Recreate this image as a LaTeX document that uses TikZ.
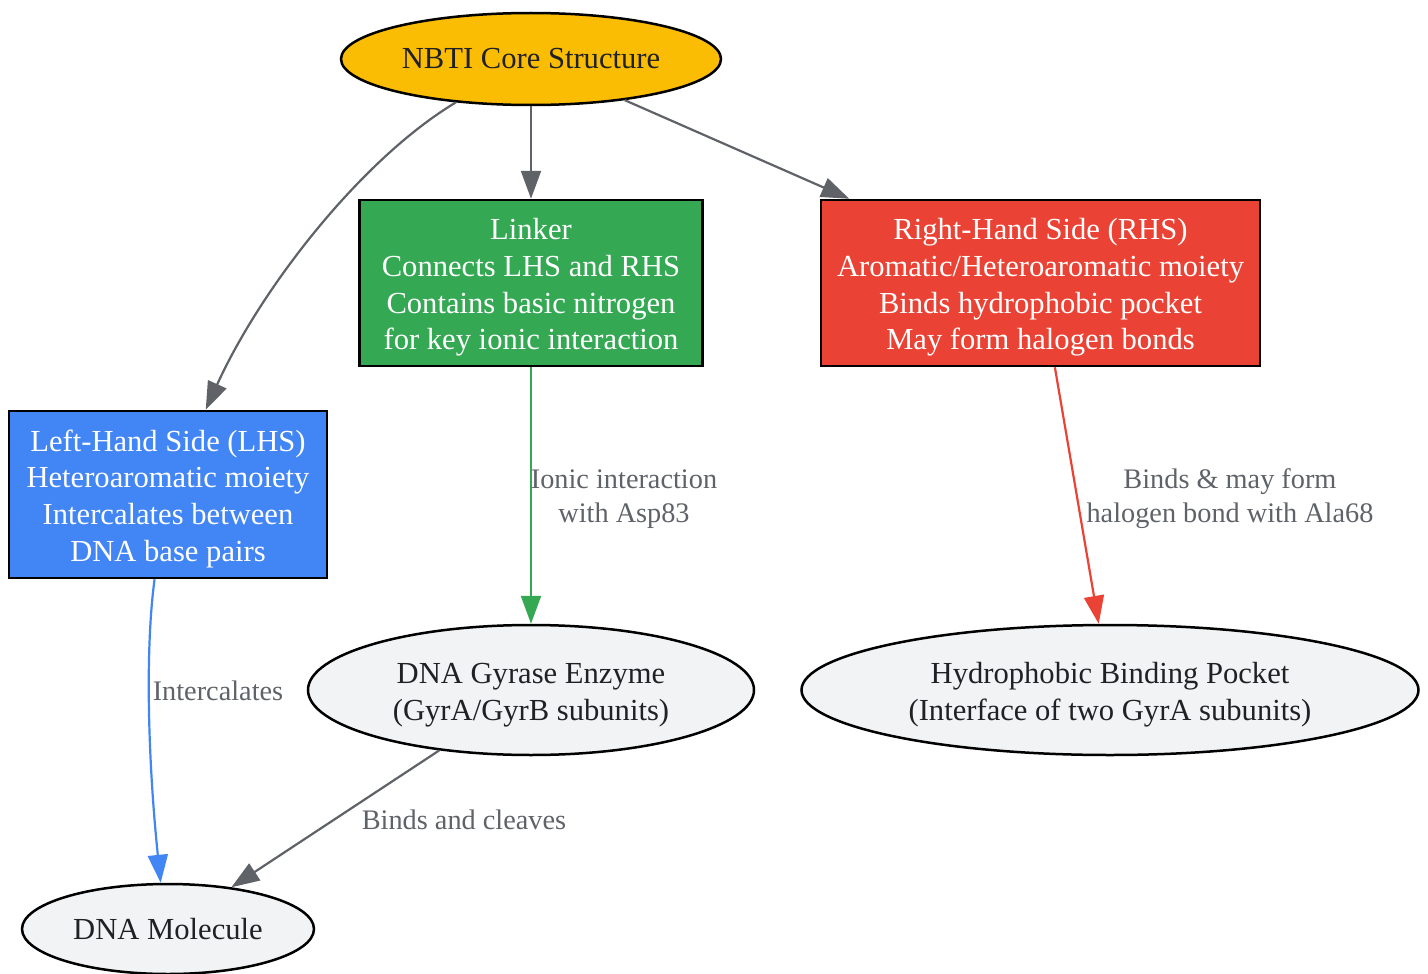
\documentclass[tikz,border=0pt]{standalone}
\usepackage{fontspec}
\setmainfont{Liberation Serif}
\usetikzlibrary{shapes.geometric,arrows.meta,calc}
\definecolor{edgegray}{HTML}{5F6368}
\definecolor{txtdark}{HTML}{202124}
\definecolor{gyellow}{HTML}{FBBC04}
\definecolor{ggreen}{HTML}{34A853}
\definecolor{gred}{HTML}{EA4335}
\definecolor{gblue}{HTML}{4285F4}
\definecolor{glight}{HTML}{F1F3F4}
\newcommand{\toplift}{\rule{0pt}{30pt}}
\newcommand{\lbllift}{\rule{0pt}{26pt}}
\tikzset{
  nodefont/.style={font=\fontsize{30.6}{36.8}\selectfont},
  lblfont/.style={font=\fontsize{28.3}{34}\selectfont, text=edgegray, align=center, inner sep=0pt},
  boxnode/.style={rectangle, draw=black, line width=2.5pt, nodefont, text=white, align=center, inner sep=0pt},
  ellnode/.style={ellipse, draw=black, line width=2.5pt, nodefont, text=txtdark, align=center, inner sep=0pt},
  conn/.style={line width=2.2pt, -{Triangle[length=28pt,width=20pt]}},
}
\begin{document}
\begin{tikzpicture}[x=1pt,y=-1pt]
\useasboundingbox (0,0) rectangle (1428,974);
\fill[white] (0,0) rectangle (1428,974);

\node[ellnode, fill=gyellow, minimum width=380pt, minimum height=92pt] (nbti) at (531,59) {NBTI Core Structure};
\node[boxnode, fill=ggreen, minimum width=343pt, minimum height=166pt] (linker) at (531,283)
  {\toplift Linker\\Connects LHS and RHS\\Contains basic nitrogen\\for key ionic interaction};
\node[boxnode, fill=gred, minimum width=439pt, minimum height=166pt] (rhs) at (1040.5,283)
  {\toplift Right-Hand Side (RHS)\\Aromatic/Heteroaromatic moiety\\Binds hydrophobic pocket\\May form halogen bonds};
\node[boxnode, fill=gblue, minimum width=318pt, minimum height=167pt] (lhs) at (168,494.5)
  {\toplift Left-Hand Side (LHS)\\Heteroaromatic moiety\\Intercalates between\\DNA base pairs};
\node[ellnode, fill=glight, minimum width=446pt, minimum height=130pt] (gyrase) at (531,690)
  {\toplift DNA Gyrase Enzyme\\(GyrA/GyrB subunits)};
\node[ellnode, fill=glight, minimum width=617pt, minimum height=130pt] (pocket) at (1110,690)
  {\toplift Hydrophobic Binding Pocket\\(Interface of two GyrA subunits)};
\node[ellnode, fill=glight, minimum width=292pt, minimum height=90pt] (dna) at (168,929)
  {DNA Molecule};

% edges
\draw[conn, draw=edgegray] (nbti.210) .. controls (360,160) and (260,290) .. (lhs.66);
\draw[conn, draw=edgegray] (nbti) -- (linker);
\draw[conn, draw=edgegray] (nbti) -- (rhs);
\draw[conn, draw=ggreen] (linker) -- (gyrase);
\draw[conn, draw=gred] (rhs) -- (pocket);
\draw[conn, draw=gblue] (lhs.-99) .. controls (145,650) and (148,760) .. (dna.99);
\draw[conn, draw=edgegray] (gyrase) -- (dna);

% labels
\node[lblfont] (l1) at (624,496) {\lbllift Ionic interaction\\with Asp83};
\node[lblfont] (l2) at (1230,496) {\lbllift Binds \& may form\\halogen bond with Ala68};
\node[lblfont] (l3) at (218,691) {Intercalates};
\node[lblfont] (l4) at (464,820) {Binds and cleaves};
\end{tikzpicture}
\end{document}
